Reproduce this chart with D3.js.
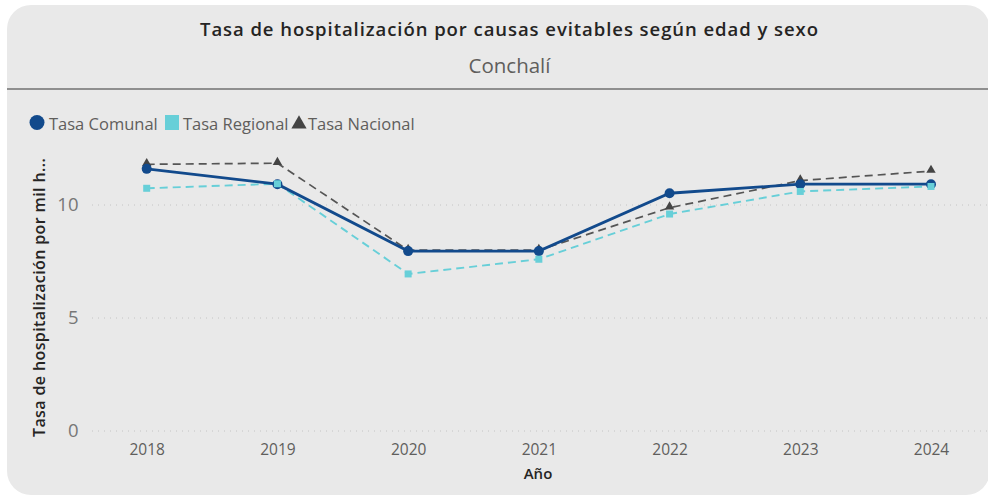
<!DOCTYPE html>
<html>
<head>
<meta charset="utf-8">
<script src="https://cdn.jsdelivr.net/npm/d3@7"></script>
<style>
  body { margin: 0; background: #ffffff; }
  svg { display: block; font-family: "Open Sans", "Noto Sans", sans-serif; }
</style>
</head>
<body>
<svg id="chart" width="988" height="498"></svg>
<script>
var years = ["2018", "2019", "2020", "2021", "2022", "2023", "2024"];
var tasaComunal = [11.6, 10.92, 7.96, 7.96, 10.52, 10.92, 10.92];
var tasaRegional = [10.74, 10.94, 6.95, 7.6, 9.6, 10.6, 10.82];
var tasaNacional = [11.8, 11.85, 8.0, 8.0, 9.88, 11.08, 11.5];
var yTicks = [0, 5, 10];

var svg = d3.select("#chart");

// card background
svg.append("rect")
  .attr("x", 7).attr("y", 5)
  .attr("width", 983).attr("height", 490)
  .attr("rx", 24).attr("ry", 24)
  .attr("fill", "#e9e9e9");

svg.append("rect")
  .attr("x", 7).attr("y", 88)
  .attr("width", 990).attr("height", 2)
  .attr("fill", "#8f8f8f");

svg.append("text")
  .attr("x", 509).attr("y", 36)
  .attr("text-anchor", "middle")
  .attr("font-size", 18.5)
  .attr("font-weight", 600)
  .attr("fill", "#252423")
  .attr("textLength", 618)
  .attr("lengthAdjust", "spacing")
  .text("Tasa de hospitalización por causas evitables según edad y sexo");

svg.append("text")
  .attr("x", 509.5).attr("y", 72.5)
  .attr("text-anchor", "middle")
  .attr("font-size", 20.5)
  .attr("fill", "#605e5c")
  .text("Conchalí");

var x = d3.scalePoint().domain(years).range([146.7, 931]);
var y = d3.scaleLinear().domain([0, 12]).range([431, 431 - 12 * 22.6]);

// gridlines
svg.append("g")
  .selectAll("line")
  .data(yTicks)
  .enter()
  .append("line")
  .attr("x1", 92).attr("x2", 988)
  .attr("y1", function(d) { return y(d); })
  .attr("y2", function(d) { return y(d); })
  .attr("stroke", "#c4c4c4")
  .attr("stroke-width", 1)
  .attr("stroke-dasharray", "1,5");

var gy = svg.append("g")
  .attr("transform", "translate(78.5,0)")
  .call(d3.axisLeft(y).tickValues(yTicks).tickSize(0).tickPadding(0));
gy.select(".domain").remove();
gy.selectAll("text")
  .attr("font-size", 18.5)
  .attr("font-family", "Open Sans, sans-serif")
  .attr("fill", "#777777");

var gx = svg.append("g")
  .attr("transform", "translate(0,444)")
  .call(d3.axisBottom(x).tickSize(0).tickPadding(0));
gx.select(".domain").remove();
gx.selectAll("text")
  .attr("font-size", 15.5)
  .attr("font-family", "Open Sans, sans-serif")
  .attr("fill", "#605e5c");

svg.append("text")
  .attr("x", 538).attr("y", 479)
  .attr("text-anchor", "middle")
  .attr("font-size", 15)
  .attr("font-weight", 600)
  .attr("fill", "#252423")
  .text("Año");

svg.append("text")
  .attr("transform", "translate(45,297.5) rotate(-90)")
  .attr("text-anchor", "middle")
  .attr("font-size", 16)
  .attr("font-weight", 600)
  .attr("fill", "#252423")
  .attr("textLength", 279)
  .attr("lengthAdjust", "spacing")
  .text("Tasa de hospitalización por mil h...");

function series(vals) {
  return vals.map(function(v, i) { return { year: years[i], value: v }; });
}

var line = d3.line()
  .x(function(d) { return x(d.year); })
  .y(function(d) { return y(d.value); });

svg.append("path")
  .datum(series(tasaNacional))
  .attr("d", line)
  .attr("fill", "none")
  .attr("stroke", "#555555")
  .attr("stroke-width", 1.7)
  .attr("stroke-dasharray", "8,5");

svg.append("path")
  .datum(series(tasaRegional))
  .attr("d", line)
  .attr("fill", "none")
  .attr("stroke", "#67cfd8")
  .attr("stroke-width", 1.9)
  .attr("stroke-dasharray", "8,5");

svg.append("path")
  .datum(series(tasaComunal))
  .attr("d", line)
  .attr("fill", "none")
  .attr("stroke", "#124a8c")
  .attr("stroke-width", 2.8);

var tri = d3.symbol().type(d3.symbolTriangle).size(38);

svg.append("g")
  .selectAll("path")
  .data(series(tasaNacional))
  .enter()
  .append("path")
  .attr("d", tri)
  .attr("transform", function(d) { return "translate(" + x(d.year) + "," + (y(d.value) - 1) + ")"; })
  .attr("fill", "#444444");

svg.append("g")
  .selectAll("circle")
  .data(series(tasaComunal))
  .enter()
  .append("circle")
  .attr("cx", function(d) { return x(d.year); })
  .attr("cy", function(d) { return y(d.value); })
  .attr("r", 5)
  .attr("fill", "#124a8c");

svg.append("g")
  .selectAll("rect")
  .data(series(tasaRegional))
  .enter()
  .append("rect")
  .attr("x", function(d) { return x(d.year) - 3.5; })
  .attr("y", function(d) { return y(d.value) - 3.5; })
  .attr("width", 7).attr("height", 7)
  .attr("fill", "#67cfd8");

// legend
var legend = svg.append("g").attr("font-size", 16.5).attr("fill", "#605e5c");
legend.append("circle").attr("cx", 37).attr("cy", 122.5).attr("r", 7.5).attr("fill", "#124a8c");
legend.append("text").attr("x", 49).attr("y", 129.5).text("Tasa Comunal");
legend.append("rect").attr("x", 165).attr("y", 115).attr("width", 14).attr("height", 15).attr("fill", "#67cfd8");
legend.append("text").attr("x", 183).attr("y", 129.5).text("Tasa Regional");
legend.append("path")
  .attr("d", d3.symbol().type(d3.symbolTriangle).size(100))
  .attr("transform", "translate(299,124)")
  .attr("fill", "#444444");
legend.append("text").attr("x", 308).attr("y", 129.5).text("Tasa Nacional");
</script>
</body>
</html>
